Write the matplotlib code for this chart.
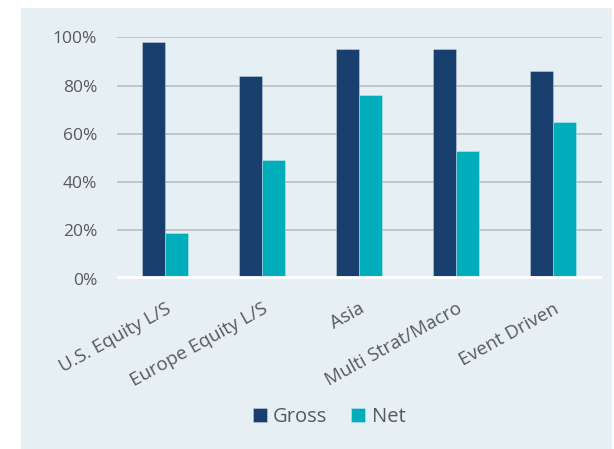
import numpy as np
import matplotlib.pyplot as plt
from matplotlib.patches import Rectangle
from matplotlib.ticker import PercentFormatter

# data
categories = ['U.S. Equity L/S', 'Europe Equity L/S', 'Asia', 'Multi Strat/Macro', 'Event Driven']
gross = [0.98, 0.84, 0.95, 0.95, 0.86]
net = [0.19, 0.49, 0.76, 0.53, 0.65]

plt.rcParams['font.family'] = ['Open Sans', 'DejaVu Sans']

navy = '#183F6E'
teal = '#00ADBB'
panel = '#E6EFF3'
txt = '#595959'

fig = plt.figure(figsize=(6.14, 4.49), dpi=100)
fig.patch.set_facecolor('white')
fig.patches.append(Rectangle((21 / 614, 0), (612 - 21) / 614, 1 - 7.5 / 449,
                             transform=fig.transFigure, facecolor=panel,
                             edgecolor='none', zorder=-10))

ax = fig.add_axes([116.7 / 614, 1 - 278.7 / 449, (601.5 - 116.7) / 614, (278.7 - 37.3) / 449])
ax.set_facecolor('none')

x = np.arange(len(categories))
w = 0.237
ax.bar(x - w / 2, gross, w, color=navy, edgecolor=(1, 1, 1, 0.35), linewidth=0.6, label='Gross', zorder=3)
ax.bar(x + w / 2, net, w, color=teal, edgecolor=(1, 1, 1, 0.35), linewidth=0.6, label='Net', zorder=3)

ax.set_xlim(-0.5, len(categories) - 0.5)
ax.set_ylim(0, 1.0)
ax.set_yticks(np.arange(0, 1.01, 0.2))
ax.yaxis.set_major_formatter(PercentFormatter(1.0, decimals=0))
ax.grid(axis='y', color='#BCBCBC', linewidth=1.2, zorder=1)
ax.axhline(0, color='white', linewidth=4.2, zorder=4)
for s in ax.spines.values():
    s.set_visible(False)
ax.tick_params(axis='y', length=0, pad=14, labelsize=12.5, labelcolor=txt)
ax.tick_params(axis='x', length=0, pad=15)
ax.set_xticks(x)
ax.set_xticklabels(categories, rotation=29, ha='right', va='top',
                   rotation_mode='anchor', fontsize=13.5, color=txt)

leg = fig.legend(loc='center', bbox_to_anchor=(329 / 614, 1 - 417 / 449), ncol=2,
                 frameon=False, fontsize=14.5, handlelength=0.7, handleheight=0.7,
                 handletextpad=0.3, columnspacing=1.2)
for t in leg.get_texts():
    t.set_color(txt)

fig.savefig('out.png', dpi=100)
